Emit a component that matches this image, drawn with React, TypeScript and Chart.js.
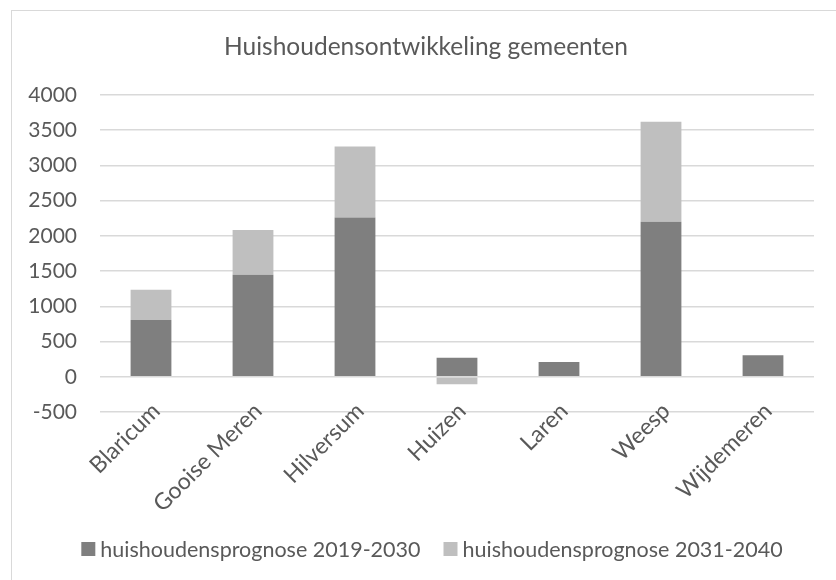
import React, { useEffect, useRef } from "react";
import { Chart, registerables } from "chart.js";

Chart.register(...registerables);

const categories = ["Blaricum", "Gooise Meren", "Hilversum", "Huizen", "Laren", "Weesp", "Wijdemeren"];
const series2019 = [805, 1450, 2260, 270, 210, 2200, 305];
const series2031 = [430, 635, 1010, -105, 0, 1420, 0];
const seriesLabels = ["huishoudensprognose 2019-2030", "huishoudensprognose 2031-2040"];
const seriesColors = ["#7f7f7f", "#bfbfbf"];
const titleText = "Huishoudensontwikkeling gemeenten";

const FONT = "Lato, 'Open Sans', sans-serif";
const TEXT = "#595959";

const decorPlugin = {
  id: "excelDecor",
  afterDraw(chart: any) {
    const ctx = chart.ctx;
    const area = chart.chartArea;
    ctx.save();
    ctx.fillStyle = TEXT;

    // title
    ctx.font = `24.5px ${FONT}`;
    ctx.textAlign = "center";
    ctx.textBaseline = "middle";
    ctx.fillText(titleText, chart.width / 2 + 2, 35.7);

    // rotated category labels
    const xs = chart.scales.x;
    ctx.font = `23px ${FONT}`;
    ctx.textAlign = "right";
    ctx.textBaseline = "top";
    categories.forEach((c, i) => {
      const px = xs.getPixelForTick(i);
      ctx.save();
      ctx.translate(px - 3, area.bottom - 13);
      ctx.rotate(-Math.PI / 4);
      ctx.fillText(c, 0, 0);
      ctx.restore();
    });

    // legend
    ctx.font = `21.5px ${FONT}`;
    const box = 14;
    const gap = 5;
    const itemGap = 23;
    const items = chart.data.datasets.map((ds: any) => ({
      label: ds.label,
      color: ds.backgroundColor,
      tw: ctx.measureText(ds.label).width,
    }));
    const total = items.reduce((a: number, it: any) => a + box + gap + it.tw, 0) + itemGap * (items.length - 1);
    let x = chart.width / 2 + 8 - total / 2;
    const y = chart.height - 31;
    ctx.textBaseline = "middle";
    ctx.textAlign = "left";
    for (const it of items) {
      ctx.fillStyle = it.color;
      ctx.fillRect(x, y - box / 2, box, box);
      ctx.fillStyle = TEXT;
      ctx.fillText(it.label, x + box + gap, y + 1);
      x += box + gap + it.tw + itemGap;
    }
    ctx.restore();
  },
};

export default function App() {
  const ref = useRef<HTMLCanvasElement | null>(null);
  useEffect(() => {
    if (!ref.current) return;
    const chart = new Chart(ref.current, {
      type: "bar",
      data: {
        labels: categories,
        datasets: [
          { label: seriesLabels[0], data: series2019, backgroundColor: seriesColors[0], barPercentage: 0.4, categoryPercentage: 1 },
          { label: seriesLabels[1], data: series2031, backgroundColor: seriesColors[1], barPercentage: 0.4, categoryPercentage: 1 },
        ],
      },
      options: {
        animation: false,
        responsive: false,
        maintainAspectRatio: false,
        layout: { padding: { left: 0, right: 22, top: 84, bottom: 168 } },
        plugins: {
          title: { display: false },
          legend: { display: false },
          tooltip: { enabled: false },
        },
        scales: {
          x: {
            stacked: true,
            grid: { display: false },
            border: { display: false },
            ticks: { display: false },
            afterFit: (s: any) => { s.height = 0; },
          },
          y: {
            stacked: true,
            min: -500,
            max: 4000,
            grid: { color: "#d9d9d9", lineWidth: 1.5, drawTicks: false },
            border: { display: false },
            ticks: {
              stepSize: 500,
              color: TEXT,
              font: { family: FONT, size: 21 },
              padding: 23,
              callback: (v: any) => String(v),
            },
            afterFit: (s: any) => { s.width = 88; },
          },
        },
      },
      plugins: [decorPlugin],
    });
    return () => chart.destroy();
  }, []);
  return (
    <div style={{ position: "fixed", inset: 0, overflow: "hidden" }}>
      <div
        style={{
          position: "absolute",
          left: 11,
          top: 10,
          width: 826,
          height: 571,
          borderTop: "1px solid #d9d9d9",
          borderLeft: "1px solid #d9d9d9",
        }}
      >
        <canvas ref={ref} width={824} height={569} style={{ display: "block" }} />
      </div>
    </div>
  );
}
